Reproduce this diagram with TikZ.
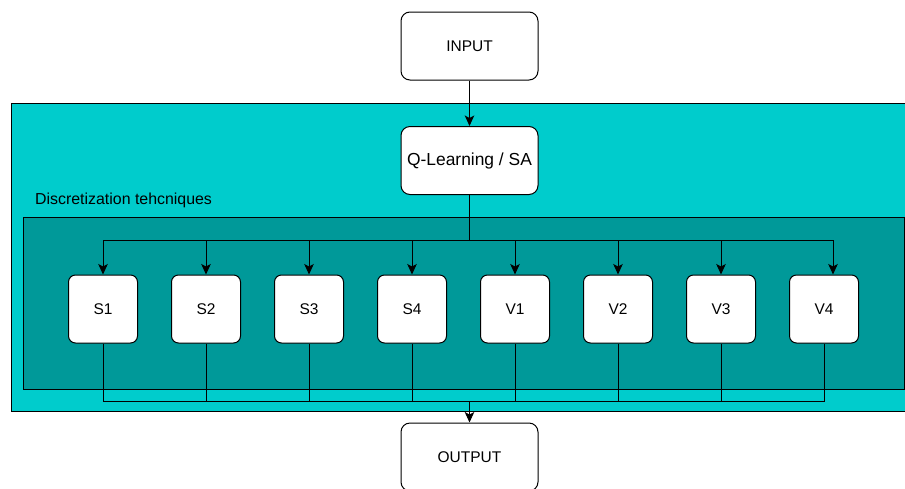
\documentclass[tikz,border=0pt]{standalone}
\usepackage{fontspec}
\setmainfont{Liberation Sans}
\usetikzlibrary{arrows.meta}
\definecolor{outerfill}{HTML}{00CCCC}
\definecolor{innerfill}{HTML}{009999}
\definecolor{edge}{HTML}{000000}
\tikzset{
  bigbox/.style={draw=edge, fill=white, line width=1pt, rounded corners=9pt,
    minimum width=137pt, minimum height=68pt, inner sep=0pt,
    font=\fontsize{15.5}{18}\selectfont},
  techbox/.style={draw=edge, fill=white, line width=1pt, rounded corners=7pt,
    minimum width=69pt, minimum height=68pt, inner sep=0pt,
    font=\fontsize{15.5}{18}\selectfont},
  link/.style={draw=edge, line width=1pt},
  arr/.style={link, -{Stealth[length=10.5pt,width=9.5pt,inset=2.5pt]}},
}
\begin{document}
\begin{tikzpicture}[x=1pt,y=-1pt]
  \clip (0,0) rectangle (905,488);
  \useasboundingbox (0,0) rectangle (905,488);

  % containers
  \path[draw=edge, fill=outerfill, line width=1pt] (11,103) rectangle (910,411.5);
  \path[draw=edge, fill=innerfill, line width=1pt] (23,217.5) rectangle (904,389);
  \node[anchor=west, inner sep=0pt, font=\fontsize{15.9}{18}\selectfont] (title) at (35,200) {Discretization tehcniques};

  % main boxes
  \node[bigbox] (input) at (469.5,46) {INPUT};
  \node[bigbox, font=\fontsize{17.4}{20}\selectfont] (qlsa) at (469.5,160.5) {Q-Learning / SA};
  \node[bigbox] (output) at (469.5,457) {OUTPUT};

  % discretization techniques
  \foreach \name/\cx in {S1/103, S2/206, S3/309, S4/412, V1/515, V2/618, V3/721, V4/824} {
    \node[techbox] (\name) at (\cx,309) {\name};
  }

  \coordinate (bus) at (469.5,240);
  \coordinate (merge) at (469.5,401);

  \draw[arr] (input) -- (qlsa);
  \draw[link] (qlsa.south) -- (bus);
  \foreach \name in {S1,S2,S3,S4,V1,V2,V3} {
    \draw[arr] (bus) -| (\name.north);
    \draw[link] (\name.south) |- (merge);
  }
  \draw[arr] (bus) -| ([xshift=9pt]V4.north);
  \draw[link] (V4.south) |- (merge);
  \draw[arr] (merge) -- (output.north);
\end{tikzpicture}
\end{document}
